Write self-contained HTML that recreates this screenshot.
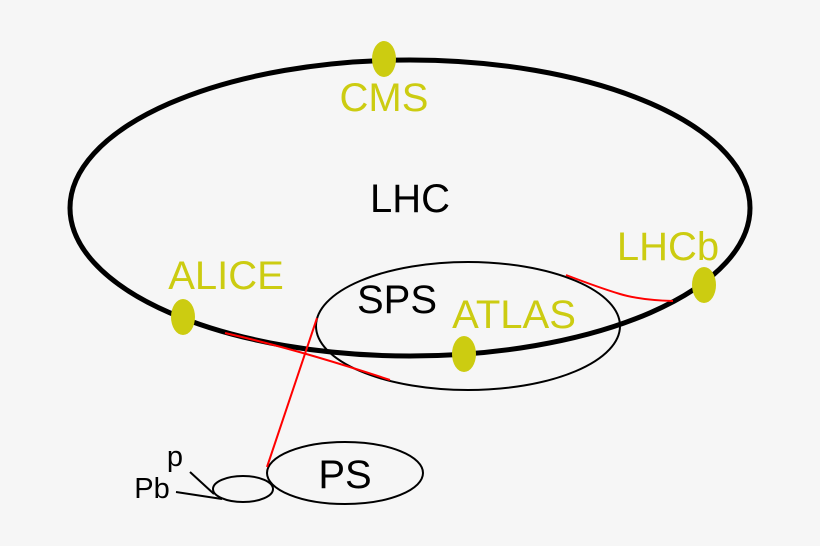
<!DOCTYPE html>
<html><head><style>body{margin:0;background:#f6f6f6}svg{display:block}</style></head><body>
<svg width="820" height="546" viewBox="0 0 820 546" xmlns="http://www.w3.org/2000/svg" font-family="Liberation Sans, sans-serif">
<rect width="820" height="546" fill="#f6f6f6"/>
<ellipse cx="410" cy="208" rx="340" ry="148" fill="none" stroke="#000" stroke-width="5"/>
<ellipse cx="468" cy="326" rx="152" ry="64" fill="none" stroke="#000" stroke-width="2"/>
<ellipse cx="345" cy="473" rx="78" ry="31" fill="none" stroke="#000" stroke-width="2"/>
<ellipse cx="243" cy="489" rx="30" ry="13" fill="none" stroke="#000" stroke-width="2"/>
<line x1="190" y1="472" x2="214" y2="494" stroke="#000" stroke-width="2"/>
<line x1="176" y1="492" x2="222" y2="499" stroke="#000" stroke-width="2"/>
<path d="M225 333 Q300 350 390 380" fill="none" stroke="red" stroke-width="2"/>
<line x1="317" y1="318" x2="267" y2="467" stroke="red" stroke-width="2"/>
<path d="M566 275 Q600 288 620 294 Q640 300 673 301" fill="none" stroke="red" stroke-width="2"/>
<g fill="#cccc11">
<ellipse cx="384" cy="59" rx="12" ry="18"/>
<ellipse cx="183" cy="317" rx="12" ry="18"/>
<ellipse cx="464" cy="354" rx="12" ry="18"/>
<ellipse cx="704" cy="285" rx="12" ry="18"/>
</g>
<g fill="#cccc11" font-size="40">
<text x="384" y="111" text-anchor="middle">CMS</text>
<text x="226" y="289" text-anchor="middle">ALICE</text>
<text x="514" y="328" text-anchor="middle">ATLAS</text>
<text x="668" y="260" text-anchor="middle">LHCb</text>
</g>
<g fill="#000">
<text x="410" y="212" font-size="40" text-anchor="middle">LHC</text>
<text x="397" y="313" font-size="40" text-anchor="middle">SPS</text>
<text x="345" y="488" font-size="40" text-anchor="middle">PS</text>
<text x="175" y="466" font-size="29" text-anchor="middle">p</text>
<text x="152" y="498" font-size="29" text-anchor="middle">Pb</text>
</g>
</svg>
</body></html>
